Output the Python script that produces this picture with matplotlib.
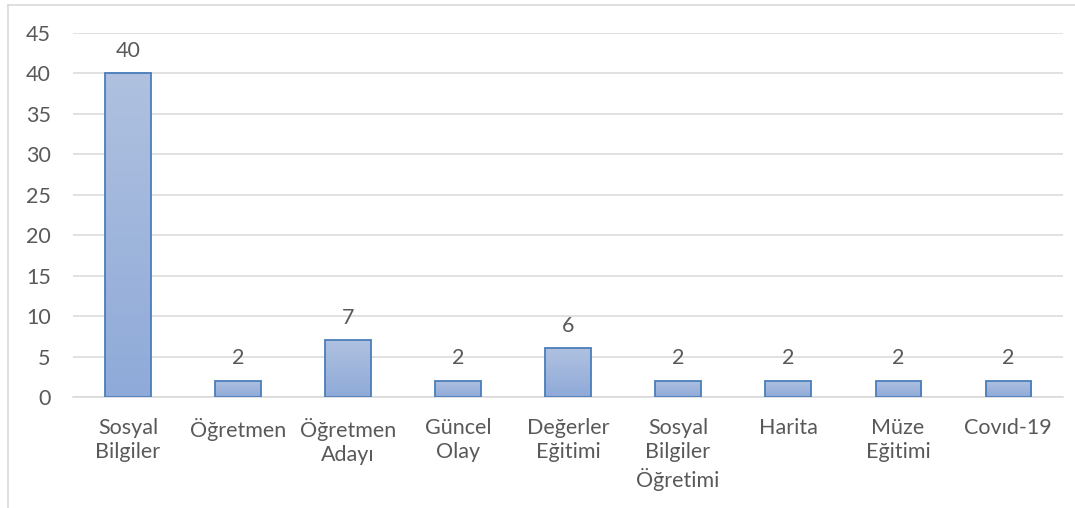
import matplotlib.pyplot as plt
import numpy as np
from matplotlib.colors import LinearSegmentedColormap
from matplotlib.lines import Line2D

categories = ["Sosyal\nBilgiler", "Öğretmen", "Öğretmen\nAdayı", "Güncel\nOlay",
              "Değerler\nEğitimi", "Sosyal\nBilgiler\nÖğretimi", "Harita",
              "Müze\nEğitimi", "Covıd-19"]
values = [40, 2, 7, 2, 6, 2, 2, 2, 2]
yticks = [0, 5, 10, 15, 20, 25, 30, 35, 40, 45]

plt.rcParams["font.family"] = ["Lato", "DejaVu Sans"]
text_color = "#595959"
grid_color = "#d9d9d9"

fig = plt.figure(figsize=(10.75, 5.08), dpi=100)
ax = fig.add_axes([0.0679, 0.2185, 0.921, 0.7165])

x = np.arange(len(categories))
bars = ax.bar(x, values, width=0.41, facecolor="none", edgecolor="#4a7ebb",
              linewidth=1.3, zorder=3)

# vertical gradient inside each bar
grad_cmap = LinearSegmentedColormap.from_list("bar", ["#8faad9", "#afc1df"])
grad = np.linspace(0, 1, 256).reshape(-1, 1)
for b in bars:
    x0, y0 = b.get_x(), b.get_y()
    im = ax.imshow(grad, cmap=grad_cmap, origin="lower", aspect="auto",
                   extent=[x0, x0 + b.get_width(), y0, y0 + b.get_height()],
                   zorder=2)
    im.set_clip_path(b)

for xi, v in zip(x, values):
    ax.annotate(str(v), (xi, v), xytext=(0, 9), textcoords="offset points",
                ha="center", va="bottom", fontsize=15.5, color=text_color)

ax.set_xlim(-0.5, len(categories) - 0.5)
ax.set_ylim(0, 45)
ax.set_yticks(yticks)
ax.set_xticks(x)
ax.set_xticklabels(categories, linespacing=1.28)
ax.tick_params(axis="both", length=0, labelsize=15.5, colors=text_color)
ax.tick_params(axis="y", pad=16)
ax.tick_params(axis="x", pad=15)
ax.yaxis.grid(True, color=grid_color, linewidth=1.1, zorder=0)
for s in ["top", "right", "left"]:
    ax.spines[s].set_visible(False)
ax.spines["bottom"].set_color(grid_color)
ax.spines["bottom"].set_linewidth(1.1)
ax.set_axisbelow(True)

# chart area frame (cut off at right and bottom)
W, H = 1075, 508
fig.add_artist(Line2D([8 / W, 1], [1 - 5 / H, 1 - 5 / H], color=grid_color, lw=1.2))
fig.add_artist(Line2D([8 / W, 8 / W], [0, 1 - 5 / H], color=grid_color, lw=1.2))

fig.savefig("out.png", dpi=100)
